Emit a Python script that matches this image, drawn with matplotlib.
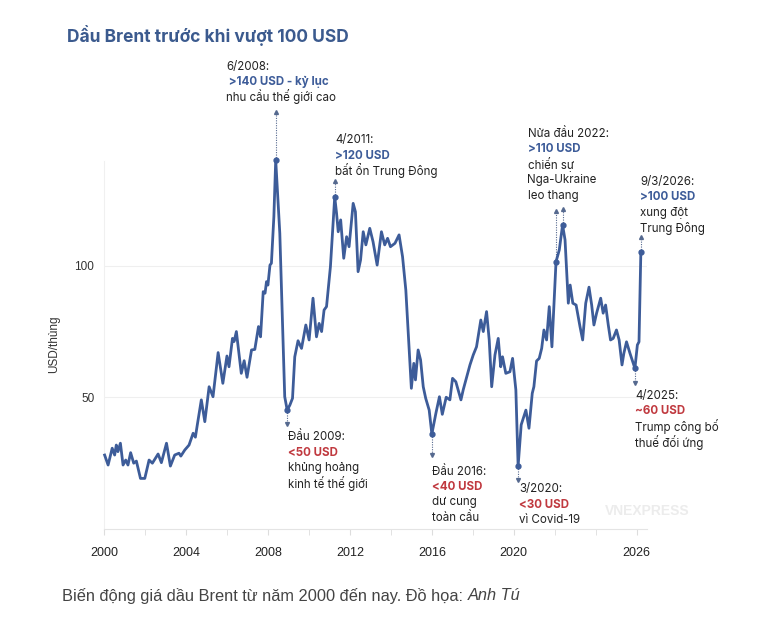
import matplotlib.pyplot as plt

# gia dau Brent (USD/thung), doc tu hinh
years = [2000.03, 2000.20, 2000.40, 2000.52, 2000.60, 2000.68, 2000.80, 2000.93, 2001.06, 2001.17,
         2001.30, 2001.45, 2001.58, 2001.78, 2001.99, 2002.20, 2002.36, 2002.64, 2002.80, 2003.05,
         2003.24, 2003.45, 2003.66, 2003.75, 2003.94, 2004.15, 2004.35, 2004.46, 2004.56, 2004.75,
         2004.92, 2005.13, 2005.32, 2005.57, 2005.80, 2006.00, 2006.10, 2006.27, 2006.35, 2006.46,
         2006.70, 2006.84, 2006.98, 2007.20, 2007.36, 2007.54, 2007.64, 2007.77, 2007.86, 2007.93,
         2008.00, 2008.10, 2008.17, 2008.29, 2008.38, 2008.58, 2008.82, 2008.94, 2009.07, 2009.20,
         2009.31, 2009.47, 2009.64, 2009.85, 2010.01, 2010.20, 2010.37, 2010.50, 2010.62, 2010.74,
         2010.86, 2011.05, 2011.26, 2011.35, 2011.43, 2011.55, 2011.70, 2011.84, 2011.96, 2012.16,
         2012.27, 2012.40, 2012.52, 2012.65, 2012.78, 2012.97, 2013.13, 2013.33, 2013.54, 2013.70,
         2013.84, 2013.98, 2014.20, 2014.40, 2014.57, 2014.73, 2014.84, 2015.00, 2015.12, 2015.20,
         2015.33, 2015.45, 2015.58, 2015.70, 2015.87, 2016.00, 2016.20, 2016.37, 2016.51, 2016.70,
         2016.88, 2017.01, 2017.17, 2017.42, 2017.53, 2017.86, 2018.02, 2018.18, 2018.39, 2018.51,
         2018.67, 2018.80, 2018.92, 2019.08, 2019.24, 2019.36, 2019.45, 2019.61, 2019.81, 2019.94,
         2020.10, 2020.21, 2020.36, 2020.59, 2020.74, 2020.90, 2020.98, 2021.11, 2021.24, 2021.36,
         2021.47, 2021.60, 2021.73, 2021.86, 2022.06, 2022.22, 2022.38, 2022.50, 2022.66, 2022.75,
         2022.88, 2023.04, 2023.23, 2023.36, 2023.51, 2023.67, 2023.80, 2023.91, 2024.04, 2024.24,
         2024.36, 2024.48, 2024.61, 2024.72, 2024.85, 2025.01, 2025.14, 2025.28, 2025.37, 2025.50,
         2025.67, 2025.91, 2026.03, 2026.11, 2026.20]
prices = [28.0, 24.2, 30.6, 28.0, 31.8, 29.3, 32.5, 24.2, 26.1, 24.2,
          28.9, 24.9, 25.7, 19.1, 19.1, 26.1, 24.9, 28.4, 25.1, 32.5,
          23.8, 28.0, 28.7, 27.6, 29.9, 31.8, 36.3, 34.8, 39.8, 49.0,
          40.7, 54.0, 50.2, 67.0, 55.3, 65.7, 61.6, 72.4, 71.2, 75.0,
          59.1, 63.9, 57.6, 68.0, 68.2, 76.9, 73.0, 90.2, 89.6, 94.0,
          92.7, 100.3, 101.0, 118.7, 140.3, 112.4, 50.2, 45.1, 47.0, 49.6,
          65.4, 71.5, 68.6, 77.5, 71.8, 87.7, 73.0, 78.1, 75.0, 83.2,
          84.5, 99.7, 126.3, 120.0, 113.0, 117.5, 102.9, 111.1, 107.3, 123.8,
          120.6, 97.8, 102.2, 113.0, 108.0, 114.3, 109.2, 100.3, 113.0, 108.0,
          110.5, 107.3, 108.6, 111.8, 103.5, 90.8, 75.6, 53.4, 62.9, 56.6,
          68.0, 64.2, 54.0, 49.6, 45.1, 36.0, 44.0, 50.2, 43.5, 50.0,
          49.0, 57.2, 55.9, 49.0, 52.8, 62.3, 66.1, 69.2, 79.4, 75.0,
          82.6, 71.8, 54.0, 66.1, 72.4, 61.6, 65.4, 59.1, 59.7, 64.8,
          52.8, 23.8, 39.5, 45.1, 38.2, 51.5, 54.0, 63.8, 64.8, 68.6,
          75.6, 71.8, 84.5, 69.2, 101.6, 106.1, 115.6, 109.9, 85.8, 92.7,
          85.8, 85.1, 76.9, 71.8, 85.8, 91.9, 85.1, 77.5, 82.0, 87.7,
          82.0, 85.1, 77.5, 71.8, 72.4, 75.6, 71.8, 62.3, 66.7, 71.1,
          66.7, 61.0, 69.9, 71.1, 105.4]

# cac moc danh dau
peak_years = [2008.38, 2011.26, 2022.06, 2022.38, 2026.20]
low_years = [2008.94, 2016.00, 2020.21, 2025.91]

xtick_labels = [2000, 2004, 2008, 2012, 2016, 2020, 2026]

BLUE = '#3d5c99'
RED = '#c0393f'
TXT = '#222222'

W, H = 762, 619
fig = plt.figure(figsize=(W / 100, H / 100), dpi=100)
ax = fig.add_axes([104 / W, 1 - 528.6 / H, (647 - 104) / W, (528.6 - 160.8) / H])

ax.plot(years, prices, color=BLUE, lw=2.0, solid_joinstyle='round', zorder=3, clip_on=False)

px = 2.627  # pixel cho 1 USD
arrow_up = [48, 16, 51, 16, 15]
arrow_dn = [14, 21, 14, 15]
for yr, ln in zip(peak_years, arrow_up):
    p = prices[years.index(yr)]
    tip = p + ln / px
    ax.plot([yr, yr], [p, tip], ls=(0, (1, 1.2)), color='#55698f', lw=0.8, zorder=2, clip_on=False)
    ax.plot(yr, tip, marker='^', ms=2.8, color='#55698f', zorder=2, clip_on=False)
    ax.plot(yr, p, 'o', ms=3.5, color=BLUE, zorder=4, clip_on=False)
for yr, ln in zip(low_years, arrow_dn):
    p = prices[years.index(yr)]
    tip = p - ln / px
    ax.plot([yr, yr], [p, tip], ls=(0, (1, 1.2)), color='#55698f', lw=0.8, zorder=2, clip_on=False)
    ax.plot(yr, tip, marker='v', ms=2.8, color='#55698f', zorder=2, clip_on=False)
    ax.plot(yr, p, 'o', ms=3.5, color=BLUE, zorder=4, clip_on=False)

ax.set_xlim(2000, 2026.5)
ax.set_ylim(0, 140)
ax.set_yticks([50, 100])
ax.set_yticklabels(['50', '100'], fontsize=8.5, color='#333333', family='Liberation Sans')
ax.set_xticks(xtick_labels)
ax.set_xticklabels([str(v) for v in xtick_labels], fontsize=9, color='#222222', family='Liberation Sans')
ax.set_xticks(range(2000, 2027, 2), minor=True)
ax.tick_params(axis='x', which='both', length=4, color='#dddddd', pad=9)
ax.tick_params(axis='y', length=0, pad=7)
ax.grid(axis='y', color='#efefef', lw=0.8)
ax.set_axisbelow(True)
for s in ['top', 'right']:
    ax.spines[s].set_visible(False)
ax.spines['left'].set_color('#f0f0f0')
ax.spines['bottom'].set_color('#e4e4e4')
ax.set_ylabel('USD/thùng', fontsize=8.5, color='#333333', family='Liberation Sans', labelpad=10)


def txt(x, y, s, color=TXT, bold=False, size=8.3):
    fig.text(x / W, 1 - y / H, s, color=color, fontsize=size, va='center', ha='left',
             family='Inter', fontweight='bold' if bold else 'normal')


notes = [
    (226, [(66.7, '6/2008:', 0), (81.7, ' >140 USD - kỷ lục', 1), (97, 'nhu cầu thế giới cao', 0)]),
    (335, [(140, '4/2011:', 0), (156, '>120 USD', 1), (171, 'bất ổn Trung Đông', 0)]),
    (527.5, [(134, 'Nửa đầu 2022:', 0), (149.3, '>110 USD', 1), (164.5, 'chiến sự', 0),
             (180.5, 'Nga-Ukraine', 0), (196, 'leo thang', 0)]),
    (640.5, [(182, '9/3/2026:', 0), (197.3, '>100 USD', 1), (212.7, 'xung đột', 0), (228.3, 'Trung Đông', 0)]),
    (287.5, [(436.7, 'Đầu 2009:', 0), (452.7, '<50 USD', 2), (468.3, 'khủng hoảng', 0), (483.5, 'kinh tế thế giới', 0)]),
    (431.5, [(471.7, 'Đầu 2016:', 0), (486.7, '<40 USD', 2), (502.3, 'dư cung', 0), (518.3, 'toàn cầu', 0)]),
    (519, [(489.3, '3/2020:', 0), (504.5, '<30 USD', 2), (520, 'vì Covid-19', 0)]),
    (635, [(396, '4/2025:', 0), (411, '~60 USD', 2), (426.7, 'Trump công bố', 0), (442.3, 'thuế đối ứng', 0)]),
]
for x0, lines in notes:
    for y0, s, kind in lines:
        if kind == 1:
            txt(x0, y0, s, color=BLUE, bold=True)
        elif kind == 2:
            txt(x0, y0, s, color=RED, bold=True)
        else:
            txt(x0, y0, s)

# watermark
fig.text(605 / W, 1 - 511 / H, 'VNEXPRESS', fontsize=10, color='#ececec', fontweight='bold',
         va='center', ha='left', family='Liberation Sans')

fig.text(67 / W, 1 - 35 / H, 'Dầu Brent trước khi vượt 100 USD', fontsize=12.5, fontweight='bold',
         color='#3b5a8e', family='Inter', va='center', ha='left')

cap = fig.text(62 / W, 1 - 596 / H, 'Biến động giá dầu Brent từ năm 2000 đến nay. Đồ họa: ',
               fontsize=11.8, color='#444444', family='Liberation Sans', va='center', ha='left')
fig.canvas.draw()
bb = cap.get_window_extent()
fig.text(bb.x1 / W, 1 - 596 / H, 'Anh Tú', fontsize=11.8, color='#444444', style='italic',
         family='Liberation Sans', va='center', ha='left')

fig.savefig('out.png', dpi=100)
